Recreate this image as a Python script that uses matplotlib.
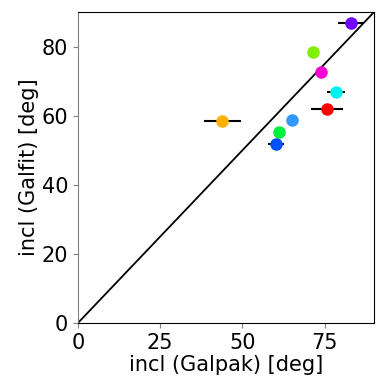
import matplotlib
matplotlib.use("Agg")
import matplotlib.pyplot as plt
import numpy as np

incl_galpak = [83.0, 71.4, 74.0, 78.4, 75.7, 43.9, 65.1, 61.2, 60.2]
incl_galpak_err = [4.1, 0.8, 0.8, 2.7, 4.9, 5.7, 0.8, 0.8, 2.5]
incl_galfit = [86.7, 78.5, 72.7, 66.9, 61.9, 58.6, 58.7, 55.4, 51.7]
colors = ["#7000FF", "#80F000", "#FF00D0", "#00F0F0", "#FF0000",
          "#FFB000", "#3399FF", "#00F040", "#0050FF"]
diag = [0, 90]

fig = plt.figure(figsize=(3.9, 3.9), dpi=100)
ax = fig.add_axes([0.2, 0.172, 0.759, 0.797])

ax.plot(diag, diag, color="black", lw=1.3, zorder=1)
for x, xe, y, c in zip(incl_galpak, incl_galpak_err, incl_galfit, colors):
    ax.errorbar(x, y, xerr=xe, fmt="o", color=c, ecolor="black",
                elinewidth=1.5, markersize=8, capsize=0, zorder=2)

ax.set_xlim(0, 90)
ax.set_ylim(0, 90)
ax.set_xticks([0, 25, 50, 75])
ax.set_yticks([0, 20, 40, 60, 80])
ax.tick_params(labelsize=15, color="gray")
ax.spines["left"].set_color("gray")
ax.set_xlabel("incl (Galpak) [deg]", fontsize=15, labelpad=2)
ax.set_ylabel("incl (Galfit) [deg]", fontsize=15, labelpad=2)

fig.savefig("out.png", dpi=100)
